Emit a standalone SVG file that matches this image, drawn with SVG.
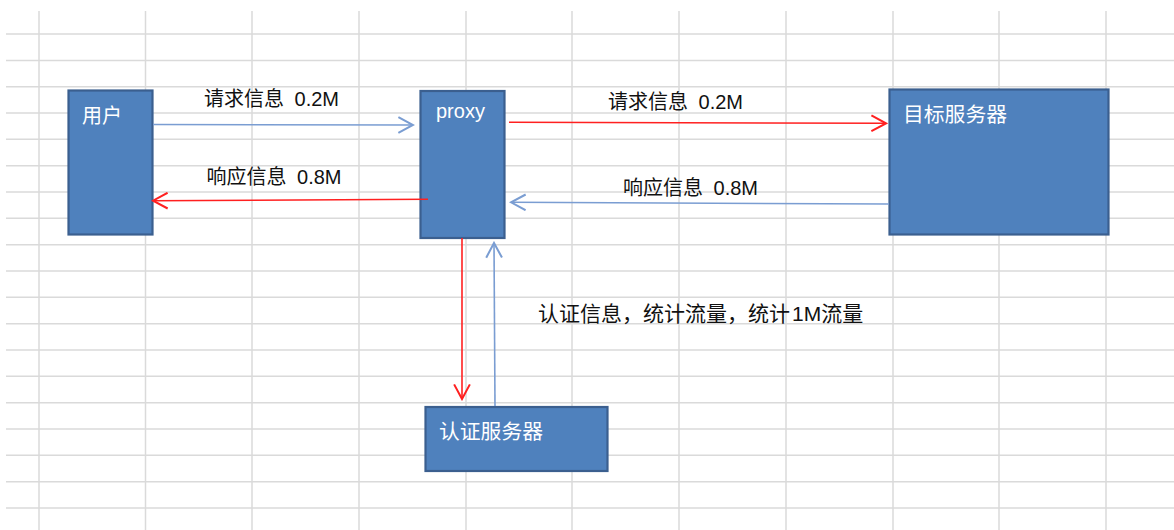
<svg xmlns="http://www.w3.org/2000/svg" width="1174" height="530" viewBox="0 0 1174 530">
<defs>
<style>
.grid line{stroke:#dadada;stroke-width:1.5}
.node rect{fill:#4f81bd;stroke:#3b5f8f;stroke-width:2.2}
.nt{fill:#ffffff;font-family:"Liberation Sans","Noto Sans CJK SC",sans-serif;font-size:20px}
.lt{fill:#111111;font-family:"Liberation Sans","Noto Sans CJK SC",sans-serif;font-size:20px}
.blue{stroke:#7a9dd2;stroke-width:1.6;fill:none}
.red{stroke:#ff2020;stroke-width:1.6;fill:none}
</style>
<marker id="ab" markerUnits="userSpaceOnUse" markerWidth="18" markerHeight="18" viewBox="0 0 16 16" refX="14" refY="8" orient="auto">
<path d="M1,1 L14,8 L1,15" fill="none" stroke="#7a9dd2" stroke-width="1.8"/>
</marker>
<marker id="ar" markerUnits="userSpaceOnUse" markerWidth="18" markerHeight="18" viewBox="0 0 16 16" refX="14" refY="8" orient="auto">
<path d="M1,1 L14,8 L1,15" fill="none" stroke="#ff2020" stroke-width="1.8"/>
</marker>
</defs>
<rect width="1174" height="530" fill="#ffffff"/>
<g class="grid">
<line x1="6" y1="34" x2="1174" y2="34"/>
<line x1="6" y1="60.5" x2="1174" y2="60.5"/>
<line x1="6" y1="86.7" x2="1174" y2="86.7"/>
<line x1="6" y1="113" x2="1174" y2="113"/>
<line x1="6" y1="139.3" x2="1174" y2="139.3"/>
<line x1="6" y1="165.7" x2="1174" y2="165.7"/>
<line x1="6" y1="192" x2="1174" y2="192"/>
<line x1="6" y1="218.3" x2="1174" y2="218.3"/>
<line x1="6" y1="244.7" x2="1174" y2="244.7"/>
<line x1="6" y1="271" x2="1174" y2="271"/>
<line x1="6" y1="297.3" x2="1174" y2="297.3"/>
<line x1="6" y1="323.7" x2="1174" y2="323.7"/>
<line x1="6" y1="350" x2="1174" y2="350"/>
<line x1="6" y1="376.3" x2="1174" y2="376.3"/>
<line x1="6" y1="402.7" x2="1174" y2="402.7"/>
<line x1="6" y1="429" x2="1174" y2="429"/>
<line x1="6" y1="455.3" x2="1174" y2="455.3"/>
<line x1="6" y1="481.7" x2="1174" y2="481.7"/>
<line x1="6" y1="508" x2="1174" y2="508"/>
<line x1="39" y1="11" x2="39" y2="530"/>
<line x1="145.5" y1="11" x2="145.5" y2="530"/>
<line x1="252" y1="11" x2="252" y2="530"/>
<line x1="359" y1="11" x2="359" y2="530"/>
<line x1="466" y1="11" x2="466" y2="530"/>
<line x1="572" y1="11" x2="572" y2="530"/>
<line x1="679" y1="11" x2="679" y2="530"/>
<line x1="786" y1="11" x2="786" y2="530"/>
<line x1="893" y1="11" x2="893" y2="530"/>
<line x1="999" y1="11" x2="999" y2="530"/>
<line x1="1106" y1="11" x2="1106" y2="530"/>
</g>
<g id="node-user" class="node">
<rect x="68.5" y="90.5" width="84" height="144"/>
<text class="nt" x="82" y="123">用户</text>
</g>
<g id="node-proxy" class="node">
<rect x="420.5" y="91" width="84" height="147"/>
<text class="nt" x="436" y="118">proxy</text>
</g>
<g id="node-target" class="node">
<rect x="889.5" y="89.5" width="219" height="145"/>
<text class="nt" x="903" y="122" style="font-size:20.8px">目标服务器</text>
</g>
<g id="node-auth" class="node">
<rect x="425.5" y="407" width="182" height="64"/>
<text class="nt" x="439" y="439" style="font-size:20.8px">认证服务器</text>
</g>
<g id="connectors">
<line class="blue" x1="153" y1="124.5" x2="413" y2="125" marker-end="url(#ab)"/>
<line class="red" x1="428" y1="199.3" x2="153" y2="200.7" marker-end="url(#ar)"/>
<line class="red" x1="509" y1="122.3" x2="886" y2="123.3" marker-end="url(#ar)"/>
<line class="blue" x1="889" y1="204" x2="511" y2="202.3" marker-end="url(#ab)"/>
<line class="red" x1="462" y1="238" x2="462" y2="399" marker-end="url(#ar)"/>
<line class="blue" x1="495" y1="406" x2="494" y2="243" marker-end="url(#ab)"/>
</g>
<g id="labels">
<text class="lt" x="204" y="106">请求信息 <tspan dx="5">0.2M</tspan></text>
<text class="lt" x="206.5" y="184">响应信息 <tspan dx="5">0.8M</tspan></text>
<text class="lt" x="608" y="109">请求信息 <tspan dx="5">0.2M</tspan></text>
<text class="lt" x="623" y="195">响应信息 <tspan dx="5">0.8M</tspan></text>
<text class="lt" x="538" y="321" style="font-size:21px">认证信息，统计流量，统计<tspan dx="2">1M</tspan>流量</text>
</g>
</svg>
